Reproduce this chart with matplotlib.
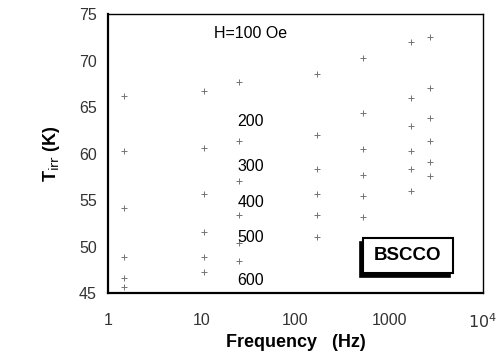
import matplotlib
matplotlib.use("Agg")
import matplotlib.pyplot as plt
from matplotlib.patches import Rectangle

plt.rcParams['font.family'] = ['Liberation Sans', 'DejaVu Sans']

# frequencies (Hz) of the measurement columns
freq = [1.5, 10.5, 25, 170, 530, 1700, 2700]

# irreversibility temperature (K) for each field
t_100 = [66.2, 66.7, 67.7, 68.5, 70.3, 72.0, 72.5]
t_200 = [60.3, 60.6, 61.3, 62.0, 64.4, 66.0, 67.0]
t_300 = [54.2, 55.6, 57.0, 58.3, 60.5, 63.0, 63.8]
t_400 = [48.9, 51.6, 53.4, 55.6, 57.7, 60.3, 61.3]
t_500 = [46.6, 48.9, 50.4, 53.4, 55.4, 58.3, 59.1]
t_600 = [45.7, 47.3, 48.4, 51.0, 53.2, 56.0, 57.6]

fields = ['H=100 Oe', '200', '300', '400', '500', '600']
label_y = [72.9, 63.5, 58.6, 54.7, 51.0, 46.4]

xticks = [1, 10, 100, 1000, 10000]
xtick_labels = ['1', '10', '100', '1000', r'$10^4$']
yticks = [45, 50, 55, 60, 65, 70, 75]

fig = plt.figure(figsize=(5.02, 3.51), dpi=100)
ax = fig.add_axes([0.215, 0.165, 0.747, 0.795])

for series in [t_100, t_200, t_300, t_400, t_500, t_600]:
    ax.plot(freq, series, linestyle='none', marker='+', ms=4, mew=0.7,
            color='0.45')

ax.set_xscale('log')
ax.set_xlim(1, 10000)
ax.set_ylim(45, 75)
ax.set_xticks(xticks)
ax.set_xticklabels(xtick_labels)
ax.minorticks_off()
ax.set_yticks(yticks)
ax.set_yticklabels([str(v) for v in yticks])
ax.tick_params(length=0, labelsize=11.5, colors='0.2')
ax.tick_params(axis='x', pad=14)
ax.tick_params(axis='y', pad=8)

for side in ['left', 'bottom']:
    ax.spines[side].set_linewidth(1.6)
for side in ['top', 'right']:
    ax.spines[side].set_linewidth(1.0)

# field labels
ax.text(13.7, label_y[0], fields[0], fontsize=11.5, va='center', ha='left')
for lab, yv in zip(fields[1:], label_y[1:]):
    ax.text(24, yv, lab, fontsize=11.5, va='center', ha='left')

# BSCCO label box with shadow to the lower left
ax.add_patch(Rectangle((0.671, 0.058), 0.242, 0.126, transform=ax.transAxes,
                       fc='black', ec='black', lw=1.2, zorder=4))
ax.add_patch(Rectangle((0.679, 0.072), 0.242, 0.126, transform=ax.transAxes,
                       fc='white', ec='black', lw=1.5, zorder=5))
ax.text(0.800, 0.135, 'BSCCO', transform=ax.transAxes, ha='center',
        va='center', fontsize=13.5, fontweight='bold', zorder=6)

ax.set_xlabel('Frequency   (Hz)', fontsize=13, fontweight='bold', labelpad=2)
ax.set_ylabel(r'T$_{\rm irr}$ (K)', fontsize=13, fontweight='bold', labelpad=12)

fig.savefig('out.png', dpi=100)
